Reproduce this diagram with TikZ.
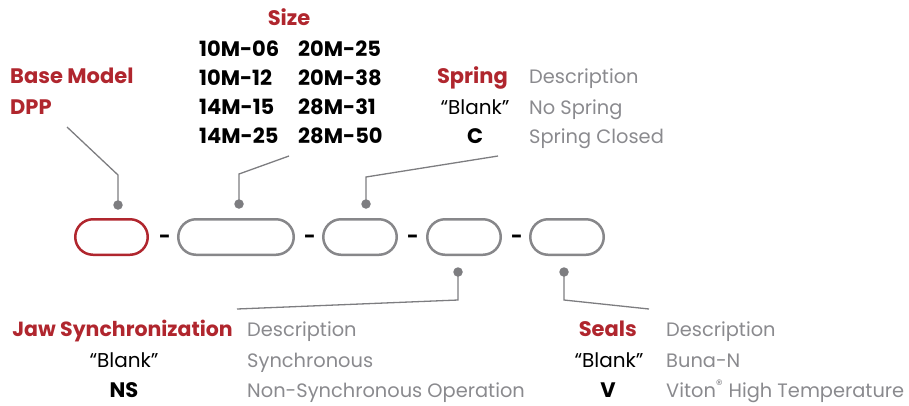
\documentclass[tikz,border=0pt]{standalone}
\usepackage{fontspec}
\setmainfont{Poppins}
\definecolor{brandred}{RGB}{176,38,46}
\definecolor{descgray}{RGB}{138,138,142}
\definecolor{pillgray}{RGB}{135,135,138}
\definecolor{leadgray}{RGB}{125,125,128}
\begin{document}
\begin{tikzpicture}[x=1pt,y=-1pt,
  hdr/.style={text=brandred, font=\fontsize{21}{24}\bfseries\selectfont, inner sep=0},
  desc/.style={text=descgray, font=\fontsize{19.4}{22}\selectfont, inner sep=0},
  val/.style={text=black, font=\fontsize{20}{22}\selectfont, inner sep=0},
  code/.style={text=black, font=\fontsize{21}{22}\bfseries\selectfont, inner sep=0},
  sep/.style={text=black, font=\fontsize{20}{22}\bfseries\selectfont, inner sep=0, anchor=base},
  pill/.style={draw=pillgray, line width=2.5pt, rounded corners=17.75pt, minimum height=35.5pt, inner sep=0},
  dotnode/.style={circle, fill=leadgray, minimum size=9.5pt, inner sep=0},
  leader/.style={draw=leadgray, line width=1.3pt}]
\useasboundingbox (0,0) rectangle (909,405);

% pills
\node[pill, draw=brandred, minimum width=72.5pt] (p1) at (111.5,237) {};
\node[pill, minimum width=115.5pt] (p2) at (236,237) {};
\node[pill, minimum width=73.5pt] (p3) at (360,237) {};
\node[pill, minimum width=73.5pt] (p4) at (464,237) {};
\node[pill, minimum width=73.5pt] (p5) at (567,237) {};
\node[sep] (s1) at (165,243) {-};
\node[sep] (s2) at (310,243) {-};
\node[sep] (s3) at (413,243) {-};
\node[sep] (s4) at (517,243) {-};

% dots
\node[dotnode] (d1) at (118,205) {};
\node[dotnode] (d2) at (239,204) {};
\node[dotnode] (d3) at (366,204) {};
\node[dotnode] (d4) at (458,272) {};
\node[dotnode] (d5) at (564,272) {};

% leader ends
\coordinate (e1) at (67,127);
\coordinate (e2) at (289,156);
\coordinate (e3) at (498,156);
\coordinate (e4) at (237,309);
\coordinate (e5) at (649,309);
\draw[leader] (d1.center) -- (118,175) -- (e1);
\draw[leader] (d2.center) -- (239,174) -- (e2);
\draw[leader] (d3.center) -- (366,177) -- (e3);
\draw[leader] (d4.center) -- (458,300) -- (e4);
\draw[leader] (d5.center) -- (564,300) -- (e5);

% Base model
\node[hdr, anchor=base west] (bm) at (10,83) {Base Model};
\node[hdr, anchor=base west] (dpp) at (10,114) {DPP};

% Size
\node[hdr, anchor=base] (size) at (289,25) {Size};
\node[code, anchor=base west] (a1) at (199,56) {10M-06};
\node[code, anchor=base west] (a2) at (199,85) {10M-12};
\node[code, anchor=base west] (a3) at (199,114) {14M-15};
\node[code, anchor=base west] (a4) at (199,143) {14M-25};
\node[code, anchor=base west] (b1) at (298,56) {20M-25};
\node[code, anchor=base west] (b2) at (298,85) {20M-38};
\node[code, anchor=base west] (b3) at (298,114) {28M-31};
\node[code, anchor=base west] (b4) at (298,143) {28M-50};

% Spring
\node[hdr, anchor=base east] (sp) at (508,83) {Spring};
\node[desc, anchor=base west] (spd) at (529,83) {Description};
\node[val, anchor=base] (spb) at (475,114) {“Blank”};
\node[desc, anchor=base west] (spbd) at (529,114) {No Spring};
\node[code, anchor=base] (spc) at (475,143) {C};
\node[desc, anchor=base west] (spcd) at (529,143) {Spring Closed};

% Jaw synchronization
\node[hdr, font=\fontsize{20.5}{24}\bfseries\selectfont, anchor=base east] (js) at (233,336) {Jaw Synchronization};
\node[desc, anchor=base west] (jsd) at (247,336) {Description};
\node[val, anchor=base] (jsb) at (124,367) {“Blank”};
\node[desc, anchor=base west] (jsbd) at (247,367) {Synchronous};
\node[code, anchor=base] (jsn) at (124,397) {NS};
\node[desc, anchor=base west] (jsnd) at (247,397) {Non-Synchronous Operation};

% Seals
\node[hdr, anchor=base east] (se) at (637,336) {Seals};
\node[desc, anchor=base west] (sed) at (666,336) {Description};
\node[val, anchor=base] (seb) at (609,367) {“Blank”};
\node[desc, anchor=base west] (sebd) at (666,367) {Buna-N};
\node[code, anchor=base] (sev) at (608,397) {V};
\node[desc, anchor=base west] (sevd) at (666,397) {Viton\textsuperscript{®} High Temperature};
\end{tikzpicture}
\end{document}
